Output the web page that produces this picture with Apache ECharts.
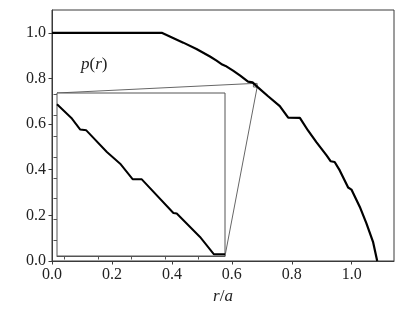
<!DOCTYPE html>
<html>
<head>
<meta charset="utf-8">
<script src="https://cdn.jsdelivr.net/npm/echarts@6/dist/echarts.min.js"></script>
<style>html,body{margin:0;padding:0;background:#fff}#c{width:415px;height:311px}</style>
</head>
<body>
<div id="c"></div>
<script>
// ---- data ----
const mainR = [0.0, 0.366, 0.393, 0.438, 0.482, 0.527, 0.549, 0.568, 0.579, 0.604, 0.628, 0.654, 0.669, 0.688, 0.721, 0.760, 0.788, 0.827, 0.854, 0.882, 0.916, 0.930, 0.943, 0.960, 0.988, 0.999, 1.027, 1.049, 1.071, 1.085];
const mainP = [1.0, 1.0, 0.984, 0.957, 0.929, 0.896, 0.878, 0.861, 0.855, 0.834, 0.812, 0.786, 0.783, 0.760, 0.722, 0.679, 0.628, 0.627, 0.572, 0.521, 0.463, 0.437, 0.434, 0.397, 0.322, 0.313, 0.237, 0.165, 0.084, 0.0];
const insetR = [0.67196, 0.67307, 0.67369, 0.67414, 0.67567, 0.67666, 0.67760, 0.67827, 0.68062, 0.68087, 0.68260, 0.68364, 0.68446];
const insetP = [0.77707, 0.77570, 0.77464, 0.77457, 0.77249, 0.77137, 0.76986, 0.76986, 0.76662, 0.76657, 0.76432, 0.76265, 0.76265];
const mainXTicks = [0.0, 0.2, 0.4, 0.6, 0.8, 1.0];
const mainXTickLabels = ['0.0', '0.2', '0.4', '0.6', '0.8', '1.0'];
const mainYTicks = [0.0, 0.2, 0.4, 0.6, 0.8, 1.0];
const mainYTickLabels = ['0.0', '0.2', '0.4', '0.6', '0.8', '1.0'];
const mainXRange = [0, 1.141];
const mainYRange = [0, 1.1];
const insetXRange = [0.67196, 0.68446];
const insetYRange = [0.76249, 0.77816];
const insetXTicks = [0.6725, 0.675, 0.6775, 0.68, 0.6825];
const insetYTicks = [0.764, 0.766, 0.768, 0.770, 0.772, 0.774, 0.776, 0.778];
const xLabel = '{i|r}{u|/}{i|a}';
const curveLabel = '{i|p}{u|(}{i|r}{u|)}';

// ---- chart ----
const FONT = 'Liberation Serif';
const chart = echarts.init(document.getElementById('c'), null, {renderer: 'canvas'});
function lab(ticks, labels) {
  return v => { for (let i = 0; i < ticks.length; i++) if (Math.abs(ticks[i] - v) < 1e-9) return labels[i]; return ''; };
}
const richMath = {
  i: {fontFamily: FONT, fontSize: 17, fontStyle: 'italic', color: '#222'},
  u: {fontFamily: FONT, fontSize: 17, color: '#222'}
};
const spine = '#3a3a3a';
const option = {
  animation: false,
  grid: [
    {left: 52, top: 10, right: 21, bottom: 50, show: true, borderColor: spine, borderWidth: 1, backgroundColor: 'transparent'},
    {left: 57, top: 93, width: 168, height: 163, show: true, borderColor: '#555', borderWidth: 1, backgroundColor: '#fff', z: 3}
  ],
  xAxis: [
    {type: 'value', gridIndex: 0, min: mainXRange[0], max: mainXRange[1],
     splitLine: {show: false},
     axisLine: {show: true, onZero: false, lineStyle: {color: spine, width: 1}},
     axisTick: {show: true, inside: false, length: 3.5, lineStyle: {color: spine}, customValues: mainXTicks},
     axisLabel: {show: true, customValues: mainXTicks, formatter: lab(mainXTicks, mainXTickLabels), fontFamily: FONT, fontSize: 16, color: '#222', margin: 6},
     name: xLabel, nameLocation: 'middle', nameGap: 25,
     nameTextStyle: {fontFamily: FONT, fontSize: 17, color: '#222', rich: richMath}},
    {type: 'value', gridIndex: 1, min: insetXRange[0], max: insetXRange[1],
     splitLine: {show: false},
     axisLine: {show: true, onZero: false, lineStyle: {color: '#555', width: 1}},
     axisTick: {show: true, inside: false, length: 3.5, lineStyle: {color: '#555'}, customValues: insetXTicks},
     axisLabel: {show: false}}
  ],
  yAxis: [
    {type: 'value', gridIndex: 0, min: mainYRange[0], max: mainYRange[1],
     splitLine: {show: false},
     axisLine: {show: true, onZero: false, lineStyle: {color: spine, width: 1}},
     axisTick: {show: true, inside: false, length: 3.5, lineStyle: {color: spine}, customValues: mainYTicks},
     axisLabel: {show: true, customValues: mainYTicks, formatter: lab(mainYTicks, mainYTickLabels), fontFamily: FONT, fontSize: 16, color: '#222', margin: 6}},
    {type: 'value', gridIndex: 1, min: insetYRange[0], max: insetYRange[1],
     splitLine: {show: false},
     axisLine: {show: true, onZero: false, lineStyle: {color: '#555', width: 1}},
     axisTick: {show: true, inside: false, length: 3.5, lineStyle: {color: '#555'}, customValues: insetYTicks},
     axisLabel: {show: false}}
  ],
  series: [
    {type: 'line', xAxisIndex: 0, yAxisIndex: 0, symbol: 'none', z: 5,
     lineStyle: {color: '#000', width: 2.2}, data: mainR.map((r, i) => [r, mainP[i]])},
    {type: 'line', xAxisIndex: 1, yAxisIndex: 1, symbol: 'none', z: 5,
     lineStyle: {color: '#000', width: 2}, data: insetR.map((r, i) => [r, insetP[i]])}
  ]
};
chart.setOption(option);

// connectors (mark_inset style) computed via the library's own scales
const insUL = chart.convertToPixel({seriesIndex: 1}, [insetXRange[0], insetYRange[1]]);
const insLR = chart.convertToPixel({seriesIndex: 1}, [insetXRange[1], insetYRange[0]]);
const regUL = chart.convertToPixel({seriesIndex: 0}, [insetXRange[0], insetYRange[1]]);
const regLR = chart.convertToPixel({seriesIndex: 0}, [insetXRange[1], insetYRange[0]]);
const gcol = '#666';
chart.setOption({
  graphic: [
    {type: 'rect', z: 1, shape: {x: regUL[0], y: regUL[1], width: regLR[0] - regUL[0], height: regLR[1] - regUL[1]},
     style: {fill: 'none', stroke: gcol, lineWidth: 1}},
    {type: 'line', z: 1, shape: {x1: insUL[0], y1: insUL[1], x2: regUL[0], y2: regUL[1]}, style: {stroke: gcol, lineWidth: 1}},
    {type: 'line', z: 1, shape: {x1: insLR[0], y1: insLR[1], x2: regLR[0], y2: regLR[1]}, style: {stroke: gcol, lineWidth: 1}},
    {type: 'text', z: 10, left: 81, top: 56,
     style: {text: curveLabel, rich: richMath, fill: '#222'}}
  ]
});
</script>
</body>
</html>
